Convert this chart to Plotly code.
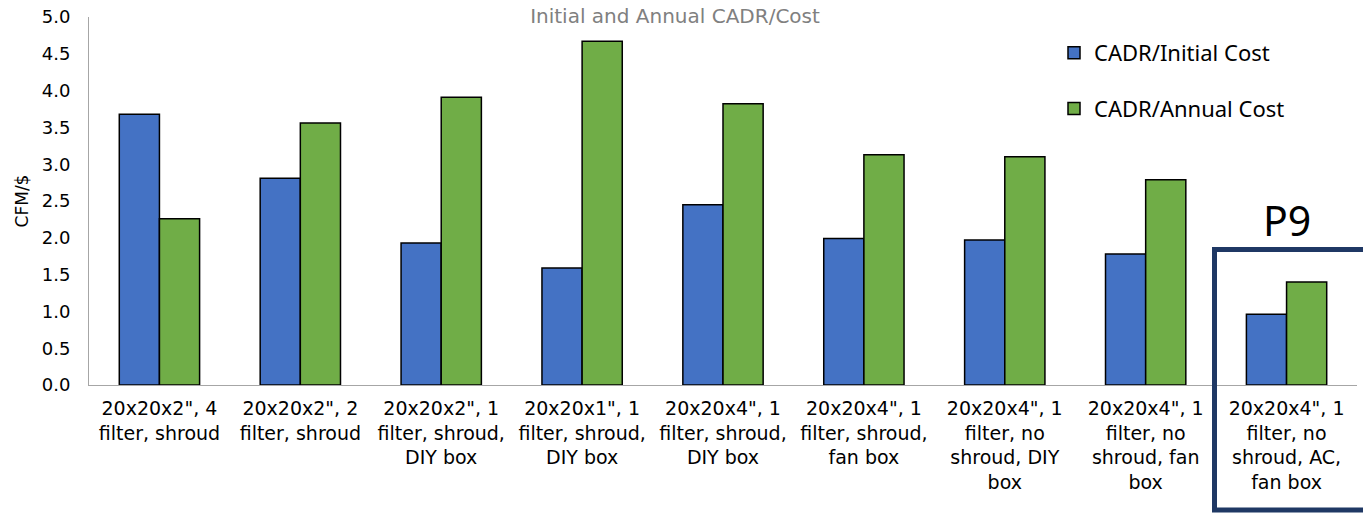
import plotly.graph_objects as go

categories = [
    "20x20x2\", 4<br>filter, shroud",
    "20x20x2\", 2<br>filter, shroud",
    "20x20x2\", 1<br>filter, shroud,<br>DIY box",
    "20x20x1\", 1<br>filter, shroud,<br>DIY box",
    "20x20x4\", 1<br>filter, shroud,<br>DIY box",
    "20x20x4\", 1<br>filter, shroud,<br>fan box",
    "20x20x4\", 1<br>filter, no<br>shroud, DIY<br>box",
    "20x20x4\", 1<br>filter, no<br>shroud, fan<br>box",
    "20x20x4\", 1<br>filter, no<br>shroud, AC,<br>fan box",
]
cadr_initial = [3.68, 2.81, 1.93, 1.59, 2.45, 1.99, 1.97, 1.78, 0.96]
cadr_annual = [2.26, 3.56, 3.91, 4.67, 3.82, 3.13, 3.10, 2.79, 1.40]

W, H = 1363, 515
L, T = 89, 17
B = H - 385
R = W - 1357
pw, ph = W - L - R, H - T - B


def px(xpage):
    return (xpage - L) / pw


def py(ypage):
    return 1 - (ypage - T) / ph


fig = go.Figure()
fig.add_trace(go.Bar(x=categories, y=cadr_initial, name="CADR/Initial Cost",
                     marker=dict(color="#4472C4", line=dict(color="black", width=1.5)),
                     legendgroup="a"))
fig.add_trace(go.Bar(x=categories, y=cadr_annual, name="CADR/Annual Cost",
                     marker=dict(color="#70AD47", line=dict(color="black", width=1.5)),
                     legendgroup="b"))

fig.update_layout(
    width=W, height=H,
    margin=dict(l=L, r=R, t=T, b=B, autoexpand=False),
    paper_bgcolor="white", plot_bgcolor="white",
    barmode="group", bargap=0.43, bargroupgap=0,
    font=dict(family="DejaVu Sans, Liberation Sans, Arial", size=17, color="black"),
    title=dict(text="Initial and Annual CADR/Cost", x=675 / W, xanchor="center",
               y=1 - 16 / H, yanchor="middle",
               font=dict(family="DejaVu Sans", size=20, color="#808080")),
    showlegend=True,
    legend=dict(x=px(1054), y=py(32), xanchor="left", yanchor="top",
                font=dict(family="Noto Sans, Open Sans", size=22, color="black"),
                bgcolor="rgba(0,0,0,0)", tracegroupgap=24, traceorder="grouped"),
    xaxis=dict(showline=True, linecolor="#A6A6A6", linewidth=1, ticks="",
               tickfont=dict(size=19), showgrid=False, ticklabelstandoff=6),
    yaxis=dict(range=[0, 5], dtick=0.5, tickformat=".1f", showline=True,
               linecolor="#A6A6A6", linewidth=1, showgrid=False, ticks="",
               tickfont=dict(size=18), ticklabelstandoff=14, ticklabeloverflow="allow",
               title=dict(text="CFM/$", font=dict(size=17), standoff=8)),
)

fig.add_shape(type="rect", xref="paper", yref="paper",
              x0=px(1214.5), x1=px(1372),
              y0=py(510), y1=py(249.5),
              line=dict(color="#1F3864", width=5), fillcolor="rgba(0,0,0,0)")
fig.add_annotation(text="P9", xref="paper", yref="paper",
                   x=px(1287), y=py(220), showarrow=False,
                   font=dict(family="Noto Sans, Open Sans", size=41, color="black"),
                   xanchor="center", yanchor="middle")

fig.write_html("out.html",
               config={"displayModeBar": False},
               post_script="document.body.style.margin='0';document.body.style.overflow='hidden';")
